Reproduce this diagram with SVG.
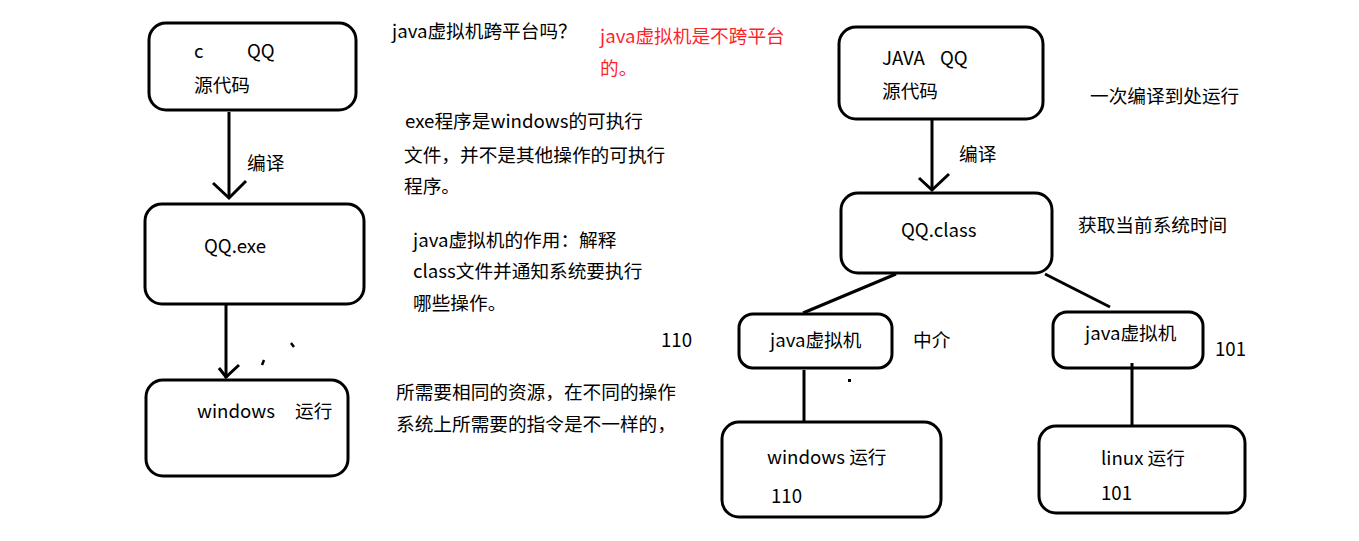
<svg xmlns="http://www.w3.org/2000/svg" width="1359" height="541" viewBox="0 0 1359 541">
<style>
text{font-family:"Microsoft YaHei","Noto Sans CJK SC","Noto Sans",sans-serif;font-size:18.67px;fill:#000}
.red{fill:#ff1f2b}
.box{fill:none;stroke:#000;stroke-width:3}
.ln{fill:none;stroke:#000;stroke-width:3;stroke-linecap:butt}
.mark{fill:none;stroke:#000;stroke-width:2.5}
</style>
<rect width="1359" height="541" fill="#fff"/>
<g id="connectors">
<line class="ln" x1="229" y1="112" x2="229" y2="197"/>
<polyline class="ln" points="213,183 229,198 246,181"/>
<line class="ln" x1="226" y1="305" x2="226" y2="378"/>
<polyline class="ln" points="219,368 226,377 239,365"/>
<line class="ln" x1="932" y1="120" x2="932" y2="190"/>
<polyline class="ln" points="919,178 932,190 949,174"/>
<line class="ln" x1="896" y1="274" x2="803" y2="313"/>
<line class="ln" x1="1045" y1="274" x2="1110" y2="307"/>
<line class="ln" x1="804" y1="370" x2="804" y2="422"/>
<line class="ln" x1="1132" y1="363" x2="1132" y2="427"/>
</g>
<g id="marks">
<line class="mark" x1="264" y1="360" x2="262" y2="365"/>
<line class="mark" x1="291" y1="343" x2="294" y2="347"/>
<rect x="848" y="379" width="3" height="3" fill="#000"/>
</g>
<g id="c-source">
<rect class="box" x="149" y="23" width="207" height="87" rx="17"/>
<text x="194" y="58">c</text>
<text x="247" y="58">QQ</text>
<text x="194" y="92">源代码</text>
</g>
<g id="label-compile-left"><text x="247" y="170">编译</text></g>
<g id="qq-exe">
<rect class="box" x="145" y="204" width="219" height="100" rx="17"/>
<text x="204" y="253">QQ.exe</text>
</g>
<g id="windows-run-left">
<rect class="box" x="146" y="380" width="202" height="96" rx="17"/>
<text x="197" y="418">windows</text>
<text x="295" y="418">运行</text>
</g>
<g id="notes">
<text x="392" y="38">java虚拟机跨平台吗？</text>
<text class="red" x="600" y="43">java虚拟机是不跨平台</text>
<text class="red" x="600" y="75">的。</text>
<text x="405" y="128">exe程序是windows的可执行</text>
<text x="404" y="162">文件，并不是其他操作的可执行</text>
<text x="404" y="193">程序。</text>
<text x="413" y="247">java虚拟机的作用：解释</text>
<text x="413" y="278">class文件并通知系统要执行</text>
<text x="413" y="310">哪些操作。</text>
<text x="661" y="347">110</text>
<text x="396" y="399">所需要相同的资源，在不同的操作</text>
<text x="396" y="431">系统上所需要的指令是不一样的，</text>
</g>
<g id="java-source">
<rect class="box" x="839" y="27" width="204" height="92" rx="17"/>
<text x="882" y="65">JAVA</text>
<text x="940" y="65">QQ</text>
<text x="882" y="98">源代码</text>
</g>
<g id="label-compile-right"><text x="959" y="161">编译</text></g>
<g id="note-once"><text x="1090" y="103">一次编译到处运行</text></g>
<g id="qq-class">
<rect class="box" x="841" y="193" width="211" height="80" rx="17"/>
<text x="901" y="237">QQ.class</text>
</g>
<g id="note-time"><text x="1078" y="232">获取当前系统时间</text></g>
<g id="jvm-windows">
<rect class="box" x="739" y="314" width="153" height="54" rx="14"/>
<text x="770" y="347">java虚拟机</text>
</g>
<g id="label-mid"><text x="913" y="347">中介</text></g>
<g id="jvm-linux">
<rect class="box" x="1053" y="312" width="150" height="56" rx="14"/>
<text x="1085" y="340">java虚拟机</text>
<text x="1215" y="356">101</text>
</g>
<g id="windows-run-right">
<rect class="box" x="722" y="422" width="219" height="95" rx="17"/>
<text x="767" y="464">windows 运行</text>
<text x="771" y="503">110</text>
</g>
<g id="linux-run">
<rect class="box" x="1039" y="426" width="206" height="87" rx="17"/>
<text x="1101" y="465">linux 运行</text>
<text x="1101" y="500">101</text>
</g>
</svg>
